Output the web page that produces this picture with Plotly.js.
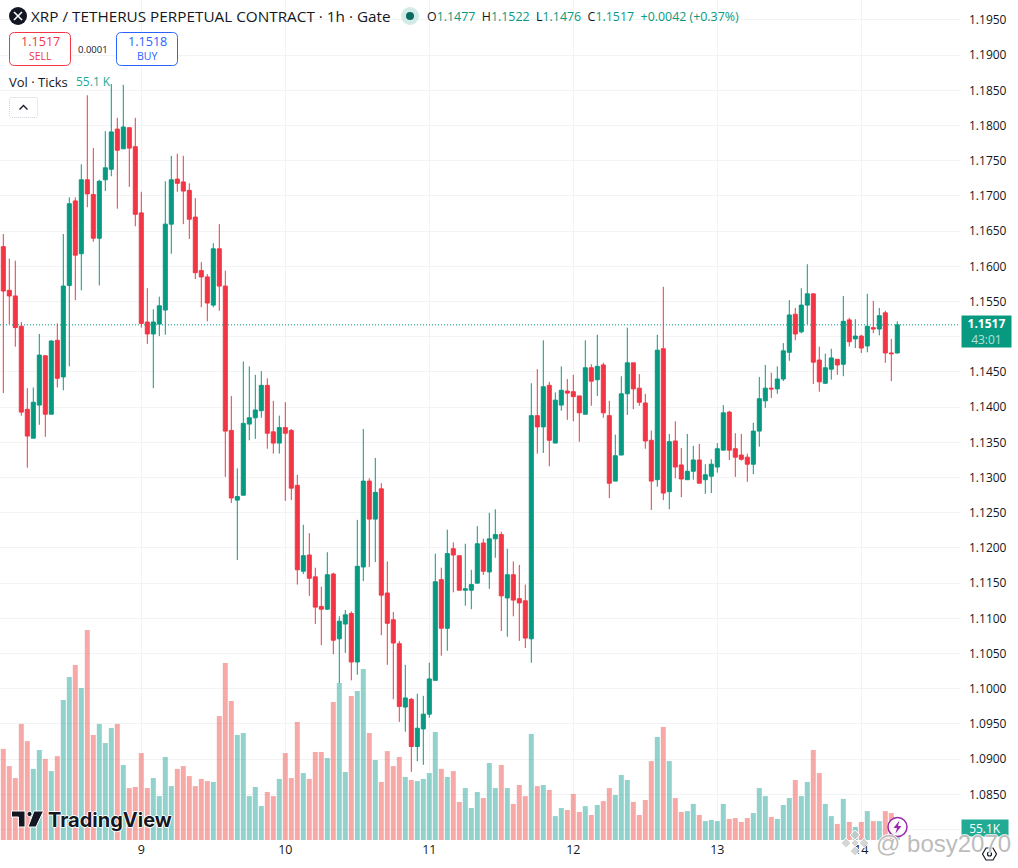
<!DOCTYPE html>
<html><head><meta charset="utf-8">
<script src="https://cdn.plot.ly/plotly-3.0.1.min.js"></script>
<style>html,body{margin:0;padding:0;background:#fff}#chart{width:1018px;height:868px}</style>
</head><body><div id="chart"></div>
<script>
const openPrice = [
1.1628,1.1566,1.1558,1.1515,1.1397,1.1356,1.1403,1.1473,1.1390,1.1495,
1.1443,1.1573,1.1693,1.1618,1.1723,1.1702,1.1640,1.1723,1.1738,1.1795,
1.1767,1.1797,1.1770,1.1676,1.1521,1.1504,1.1518,1.1538,1.1660,1.1724,
1.1720,1.1708,1.1670,1.1594,1.1585,1.1545,1.1625,1.1572,1.1367,1.1268,
1.1275,1.1376,1.1385,1.1395,1.1431,1.1365,1.1349,1.1371,1.1367,1.1289,
1.1167,1.1190,1.1159,1.1117,1.1113,1.1163,1.1071,1.1092,1.1107,1.1038,
1.1173,1.1295,1.1241,1.1284,1.1136,1.1098,1.1064,1.0974,1.0985,1.0918,
1.0943,1.0964,1.1012,1.1155,1.1086,1.1199,1.1189,1.1140,1.1140,1.1150,
1.1207,1.1166,1.1213,1.1219,1.1129,1.1162,1.1128,1.1125,1.1071,1.1388,
1.1372,1.1431,1.1349,1.1403,1.1423,1.1422,1.1416,1.1390,1.1456,1.1439,
1.1460,1.1388,1.1295,1.1332,1.1419,1.1463,1.1427,1.1406,1.1353,1.1297,
1.1483,1.1280,1.1352,1.1318,1.1297,1.1309,1.1325,1.1297,1.1302,1.1315,
1.1339,1.1393,1.1341,1.1332,1.1329,1.1319,1.1366,1.1409,1.1427,1.1426,
1.1440,1.1478,1.1532,1.1507,1.1545,1.1561,1.1467,1.1434,1.1454,1.1468,
1.1461,1.1524,1.1497,1.1501,1.1487,1.1513,1.1511,1.1534,1.1477,1.1477];
const highPrice = [
1.1646,1.1611,1.1608,1.1521,1.1427,1.1428,1.1504,1.1474,1.1495,1.1519,
1.1646,1.1698,1.1698,1.1745,1.1843,1.1768,1.1723,1.1792,1.1859,1.1811,
1.1858,1.1797,1.1811,1.1706,1.1569,1.1539,1.1557,1.1721,1.1757,1.1760,
1.1757,1.1718,1.1697,1.1606,1.1589,1.1633,1.1660,1.1594,1.1416,1.1313,
1.1465,1.1458,1.1446,1.1451,1.1441,1.1409,1.1388,1.1407,1.1369,1.1304,
1.1233,1.1221,1.1172,1.1145,1.1194,1.1165,1.1103,1.1112,1.1110,1.1240,
1.1369,1.1299,1.1328,1.1292,1.1181,1.1109,1.1068,1.1034,1.0987,1.0993,
1.0990,1.1037,1.1192,1.1172,1.1226,1.1208,1.1189,1.1206,1.1169,1.1231,
1.1213,1.1250,1.1255,1.1223,1.1199,1.1181,1.1176,1.1148,1.1434,1.1454,
1.1495,1.1436,1.1421,1.1458,1.1440,1.1446,1.1416,1.1495,1.1461,1.1503,
1.1463,1.1409,1.1361,1.1444,1.1513,1.1463,1.1447,1.1419,1.1367,1.1503,
1.1571,1.1362,1.1380,1.1342,1.1362,1.1345,1.1348,1.1319,1.1326,1.1349,
1.1403,1.1395,1.1363,1.1362,1.1334,1.1378,1.1443,1.1460,1.1449,1.1458,
1.1491,1.1552,1.1541,1.1569,1.1603,1.1561,1.1486,1.1476,1.1483,1.1468,
1.1558,1.1527,1.1525,1.1503,1.1561,1.1551,1.1541,1.1537,1.1497,1.1522];
const lowPrice = [
1.1420,1.1518,1.1486,1.1388,1.1314,1.1356,1.1375,1.1358,1.1390,1.1428,
1.1424,1.1458,1.1552,1.1566,1.1684,1.1635,1.1573,1.1707,1.1728,1.1682,
1.1767,1.1713,1.1657,1.1513,1.1490,1.1427,1.1501,1.1503,1.1618,1.1706,
1.1660,1.1639,1.1582,1.1542,1.1522,1.1542,1.1537,1.1301,1.1264,1.1183,
1.1275,1.1353,1.1355,1.1385,1.1341,1.1334,1.1334,1.1267,1.1268,1.1148,
1.1163,1.1132,1.1092,1.1062,1.1112,1.1049,1.1008,1.1051,1.1012,1.1020,
1.1153,1.1173,1.1180,1.1076,1.1034,1.0985,1.0953,1.0939,1.0882,1.0897,
1.0892,1.0959,1.1012,1.1047,1.1054,1.1137,1.1140,1.1118,1.1113,1.1150,
1.1162,1.1142,1.1186,1.1082,1.1074,1.1103,1.1068,1.1058,1.1037,1.1334,
1.1335,1.1316,1.1349,1.1395,1.1382,1.1380,1.1351,1.1390,1.1402,1.1416,
1.1385,1.1271,1.1295,1.1332,1.1389,1.1397,1.1402,1.1341,1.1254,1.1287,
1.1268,1.1255,1.1299,1.1272,1.1297,1.1297,1.1292,1.1277,1.1278,1.1307,
1.1339,1.1325,1.1301,1.1324,1.1294,1.1305,1.1344,1.1399,1.1413,1.1419,
1.1437,1.1466,1.1495,1.1505,1.1518,1.1433,1.1422,1.1433,1.1439,1.1446,
1.1444,1.1486,1.1484,1.1477,1.1478,1.1505,1.1502,1.1463,1.1437,1.1476];
const closePrice = [
1.1565,1.1558,1.1513,1.1393,1.1359,1.1407,1.1474,1.1390,1.1494,1.1441,
1.1572,1.1689,1.1616,1.1723,1.1703,1.1640,1.1721,1.1740,1.1791,1.1765,
1.1798,1.1768,1.1674,1.1519,1.1504,1.1521,1.1544,1.1660,1.1723,1.1718,
1.1707,1.1667,1.1591,1.1585,1.1548,1.1625,1.1572,1.1366,1.1271,1.1273,
1.1377,1.1385,1.1396,1.1431,1.1363,1.1349,1.1371,1.1363,1.1285,1.1169,
1.1189,1.1157,1.1116,1.1113,1.1162,1.1069,1.1096,1.1105,1.1038,1.1174,
1.1295,1.1241,1.1279,1.1133,1.1093,1.1065,1.0975,1.0987,1.0918,1.0944,
1.0964,1.1014,1.1152,1.1086,1.1192,1.1190,1.1140,1.1142,1.1148,1.1206,
1.1167,1.1213,1.1219,1.1132,1.1162,1.1126,1.1122,1.1072,1.1388,1.1372,
1.1429,1.1353,1.1410,1.1424,1.1420,1.1415,1.1392,1.1456,1.1437,1.1458,
1.1392,1.1292,1.1331,1.1419,1.1463,1.1426,1.1407,1.1352,1.1295,1.1481,
1.1278,1.1351,1.1315,1.1298,1.1309,1.1325,1.1292,1.1304,1.1319,1.1341,
1.1392,1.1339,1.1329,1.1326,1.1319,1.1366,1.1412,1.1427,1.1426,1.1440,
1.1480,1.1531,1.1504,1.1545,1.1561,1.1464,1.1436,1.1456,1.1470,1.1460,
1.1522,1.1493,1.1501,1.1484,1.1515,1.1511,1.1530,1.1477,1.1476,1.1517];
const volumeK = [
419,340,285,534,455,327,414,373,317,386,
644,750,805,699,966,483,534,446,515,534,
345,239,244,400,239,285,202,382,248,327,
340,294,248,281,271,267,570,814,639,483,
492,202,244,156,221,202,281,400,285,543,
308,281,405,405,377,635,722,313,662,685,
787,492,368,267,409,340,382,290,276,271,
281,308,497,327,290,317,175,239,147,221,
193,354,239,345,239,166,253,202,488,248,
253,230,110,147,138,212,129,156,115,161,
179,239,207,299,276,175,115,184,363,474,
520,363,193,129,133,166,115,87,92,87,
166,97,101,83,101,124,239,202,106,97,
161,193,276,202,267,414,308,166,110,74,
189,83,60,83,133,87,87,133,124,55.1];
const dayTickIndex = [23,47,71,95,119,143];
const dayTickLabels = ['9','10','11','12','13','14'];
const priceTicks = [1.08,1.085,1.09,1.095,1.10,1.105,1.11,1.115,1.12,1.125,1.13,1.135,1.14,1.145,1.15,1.155,1.16,1.165,1.17,1.175,1.18,1.185,1.19,1.195];
const priceTickLabels = ['','1.0850','1.0900','1.0950','1.1000','1.1050','1.1100','1.1150','1.1200','1.1250','1.1300','1.1350','1.1400','1.1450','','1.1550','1.1600','1.1650','1.1700','1.1750','1.1800','1.1850','1.1900','1.1950'];
const lastPrice = 1.1517;

const UP='#089981', DOWN='#F23645';
const PW=960, PH=840;
const fx=x=>x/PW, fy=y=>1-y/PH;
const idx=openPrice.map((_,i)=>i);
const volColors=idx.map(i=>closePrice[i]>=openPrice[i]?'rgba(38,166,154,0.5)':'rgba(239,83,80,0.5)');
const FONT='"Open Sans", sans-serif';

const traces=[
 {type:'bar',x:idx,y:volumeK,marker:{color:volColors,line:{width:0}},xaxis:'x',yaxis:'y',hoverinfo:'skip',showlegend:false},
 {type:'candlestick',x:idx,open:openPrice,high:highPrice,low:lowPrice,close:closePrice,xaxis:'x',yaxis:'y2',
  increasing:{line:{color:UP,width:1},fillcolor:UP},decreasing:{line:{color:DOWN,width:1},fillcolor:DOWN},
  whiskerwidth:0,showlegend:false,hoverinfo:'skip'}
];

function path(pts,close){return pts.map((p,i)=>(i?'L':'M')+fx(p[0])+','+fy(p[1])).join(' ')+(close?' Z':'');}
function roundRect(x0,y0,x1,y1,r){
 const q=(x,y)=>fx(x)+','+fy(y);
 return 'M'+q(x0+r,y0)+' L'+q(x1-r,y0)+' Q'+q(x1,y0)+' '+q(x1,y0+r)+' L'+q(x1,y1-r)+' Q'+q(x1,y1)+' '+q(x1-r,y1)+' L'+q(x0+r,y1)+' Q'+q(x0,y1)+' '+q(x0,y1-r)+' L'+q(x0,y0+r)+' Q'+q(x0,y0)+' '+q(x0+r,y0)+' Z';
}
const pap=(o)=>Object.assign({xref:'paper',yref:'paper',layer:'above'},o);
const circle=(cx,cy,r,fill,line,lw)=>pap({type:'circle',x0:fx(cx-r),x1:fx(cx+r),y0:fy(cy+r),y1:fy(cy-r),fillcolor:fill,line:{color:line||fill,width:lw||0}});
const poly=(pts,fill,line,lw)=>pap({type:'path',path:path(pts,true),fillcolor:fill,line:{color:line||fill,width:lw===undefined?0:lw}});
const stroke=(pts,color,lw)=>pap({type:'path',path:path(pts,false),fillcolor:'rgba(0,0,0,0)',line:{color:color,width:lw}});

const shapes=[
 {type:'line',xref:'paper',yref:'y2',x0:0,x1:1,y0:lastPrice,y1:lastPrice,line:{color:UP,width:1,dash:'1px,2px'},layer:'above'},
 // symbol icon
 circle(18,16,9,'#131722'),
 stroke([[14,12],[22,20]],'#fff',1.6),
 stroke([[22,12],[14,20]],'#fff',1.6),
 // live dot
 circle(410,16,9,'#D3EBE8'),
 circle(410,16,4,'#0B6B5E'),
 // sell / buy
 pap({type:'path',path:roundRect(9.5,32.5,70.5,65.5,5),fillcolor:'#fff',line:{color:DOWN,width:1}}),
 pap({type:'path',path:roundRect(116.5,32.5,177.5,65.5,5),fillcolor:'#fff',line:{color:'#2962FF',width:1}}),
 // collapse button
 pap({type:'path',path:roundRect(9.5,97.5,37.5,117.5,2),fillcolor:'#fff',line:{color:'#D1D4DC',width:1,dash:'1px,1px'}}),
 stroke([[19.5,109.5],[23.5,105.5],[27.5,109.5]],'#131722',1.3),
 // TradingView mark
 poly([[11.5,811],[25,811],[25,827],[18.5,827],[18.5,817],[11.5,817]],'#131722','#fff',1),
 circle(29.5,814,2.6,'#131722','#fff',1),
 poly([[34,811],[43.5,811],[36,827],[28,827]],'#131722','#fff',1),
 // flash icon
 circle(897.5,827,9.5,'rgba(255,255,255,0.9)','#9C27B0',1.5),
 poly([[899.5,820.5],[893.5,828],[897,828],[895.5,833.5],[901.5,826],[898,826]],'#9C27B0'),
 // hexagon icon
 poly([[982.5,854],[986,848],[993,848],[996.5,854],[993,860],[986,860]],'#fff','#131722',1.2),
 circle(989.5,854,2,'#fff','#131722',1.2),
 // watermark diamonds
 poly([[855,830],[860,835],[855,840],[850,835]],'rgba(200,200,200,0.75)','rgba(255,255,255,0.9)',1),
 poly([[846,838],[851,843],[846,848],[841,843]],'rgba(200,200,200,0.75)','rgba(255,255,255,0.9)',1),
 poly([[864,838],[869,843],[864,848],[859,843]],'rgba(200,200,200,0.75)','rgba(255,255,255,0.9)',1),
 poly([[855,846],[860,851],[855,856],[850,851]],'rgba(200,200,200,0.75)','rgba(255,255,255,0.9)',1),
 poly([[855,839],[859,843],[855,847],[851,843]],'rgba(200,200,200,0.75)','rgba(255,255,255,0.9)',1),
];

const ann=(x,y,text,size,color,o)=>Object.assign({xref:'paper',yref:'paper',x:fx(x),y:fy(y),text:text,showarrow:false,xanchor:'left',yanchor:'middle',borderpad:0,
  font:{family:FONT,size:size,color:color}},o||{});
const TEAL='#089981';
const g=s=>'<span style="color:'+TEAL+'">'+s+'</span>';
const annotations=[
 ann(30,16,'XRP / TETHERUS PERPETUAL CONTRACT · 1h · Gate',15.3,'#131722'),
 ann(426,16,'O'+g('1.1477')+'  H'+g('1.1522')+'  L'+g('1.1476')+'  C'+g('1.1517')+'  '+g('+0.0042 (+0.37%)'),12.4,'#131722'),
 ann(40,41,'1.1517',12.6,DOWN,{xanchor:'center'}),
 ann(40,56,'SELL',10.5,DOWN,{xanchor:'center'}),
 ann(93,49,'0.0001',9.5,'#131722',{xanchor:'center'}),
 ann(147,41,'1.1518',12.6,'#2962FF',{xanchor:'center'}),
 ann(147,56,'BUY',10.5,'#2962FF',{xanchor:'center'}),
 ann(8,82,'Vol · Ticks',13,'#131722'),
 ann(75,82,'55.1 K',12,'#22AB94'),
 ann(47,820,'TradingView',20,'#131722',{font:{family:'Inter, sans-serif',size:20,color:'#131722',weight:700,shadow:'1px 0 0 #fff,-1px 0 0 #fff,0 1px 0 #fff,0 -1px 0 #fff'}}),
 ann(961,332,'<b>1.1517</b><br><span style="color:#B4E1DA">43:01</span>',12,'#fff',{xanchor:'left',width:49,height:31,align:'center',bgcolor:UP}),
 ann(961,828,'55.1K',12,'#fff',{width:46,height:16,align:'center',bgcolor:'#22AB94'}),
 ann(875,843,'@ bosy2070',24,'rgba(170,170,170,0.8)',{font:{family:'"Liberation Sans", sans-serif',size:24,color:'rgba(170,170,170,0.8)',shadow:'1px 0 0 #fff,-1px 0 0 #fff,0 1px 0 #fff,0 -1px 0 #fff'}}),
];

const layout={
 width:1018,height:868,margin:{l:0,r:58,t:0,b:28,pad:0},
 paper_bgcolor:'#fff',plot_bgcolor:'#fff',showlegend:false,bargap:0.17,boxgap:0.33,boxgroupgap:0,
 font:{family:FONT,size:12,color:'#131722'},
 xaxis:{type:'linear',range:[-0.55,159.45],tickmode:'array',tickvals:dayTickIndex,ticktext:dayTickLabels,
  showgrid:true,gridcolor:'#F2F3F5',gridwidth:1,zeroline:false,showline:false,ticks:'',
  tickfont:{family:FONT,size:12.5,color:'#131722'},rangeslider:{visible:false},fixedrange:true},
 yaxis:{range:[0,3864],visible:false,showgrid:false,zeroline:false,fixedrange:true},
 yaxis2:{overlaying:'y',side:'right',range:[1.07852,1.19784],tickmode:'array',tickvals:priceTicks,ticktext:priceTickLabels,
  showgrid:true,gridcolor:'#F2F3F5',gridwidth:1,zeroline:false,showline:false,ticks:'',ticklabelstandoff:8,
  tickfont:{family:FONT,size:12,color:'#131722'},fixedrange:true},
 shapes:shapes,annotations:annotations
};
Plotly.newPlot('chart',traces,layout,{displayModeBar:false,staticPlot:true});
</script></body></html>
